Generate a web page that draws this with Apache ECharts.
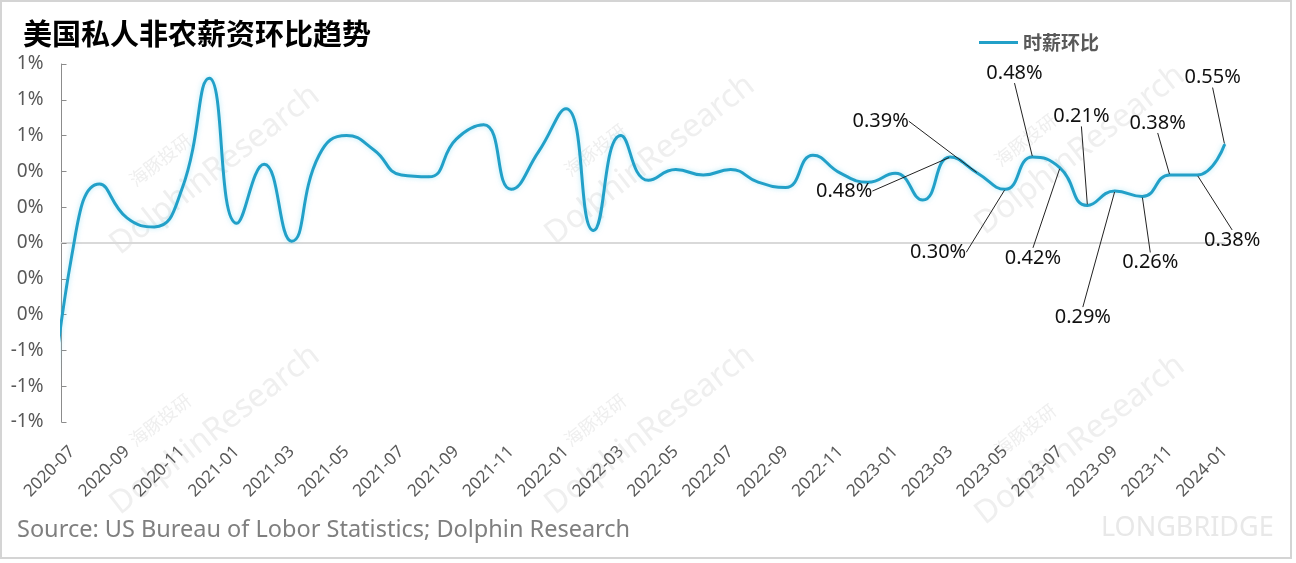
<!DOCTYPE html>
<html><head><meta charset="utf-8">
<script src="https://cdn.jsdelivr.net/npm/echarts@6/dist/echarts.min.js"></script>
<style>html,body{margin:0;padding:0;background:#fff}#c{width:1296px;height:563px}</style>
</head><body><div id="c"></div>
<script>
// ---- data ----
const categories = [
  '2020-06','2020-07','2020-08','2020-09','2020-10','2020-11','2020-12',
  '2021-01','2021-02','2021-03','2021-04','2021-05','2021-06','2021-07','2021-08','2021-09','2021-10','2021-11','2021-12',
  '2022-01','2022-02','2022-03','2022-04','2022-05','2022-06','2022-07','2022-08','2022-09','2022-10','2022-11','2022-12',
  '2023-01','2023-02','2023-03','2023-04','2023-05','2023-06','2023-07','2023-08','2023-09','2023-10','2023-11','2023-12',
  '2024-01'
];
// hourly wage, month-on-month, % (2020-06 lies mostly left of the plotted window)
const wageMoM = [
  -1.37,
  -0.06, 0.33, 0.14, 0.09, 0.30, 0.92,
  0.11, 0.44, 0.01, 0.49, 0.60, 0.52, 0.38, 0.37, 0.58, 0.66, 0.30, 0.51,
  0.75, 0.07, 0.60, 0.35, 0.41, 0.38, 0.41, 0.34, 0.31, 0.49, 0.39, 0.34,
  0.39, 0.24, 0.48, 0.39, 0.30, 0.48, 0.42, 0.21, 0.29, 0.26, 0.38, 0.38,
  0.55
];
const tickMonths = ['2020-07','2020-09','2020-11','2021-01','2021-03','2021-05','2021-07','2021-09','2021-11',
  '2022-01','2022-03','2022-05','2022-07','2022-09','2022-11','2023-01','2023-03','2023-05','2023-07','2023-09','2023-11','2024-01'];
const labeledMonths = ['2023-03','2023-04','2023-05','2023-06','2023-07','2023-08','2023-09','2023-10','2023-11','2023-12','2024-01'];
const seriesName = '时薪环比';
const titleText = '美国私人非农薪资环比趋势';
const sourceText = 'Source: US Bureau of Lobor Statistics; Dolphin Research';

// ---- layout ----
const firstShown = categories.indexOf('2020-07');
const X_MIN = -0.386;               // plotted window starts a little before 2020-07
const X_MAX = categories.length - 1 - firstShown;
const labelOffsets = {
  '2023-03': [-106, 34], '2023-04': [-97, -52], '2023-05': [-67, 63],
  '2023-06': [-18, -84], '2023-07': [-27, 90], '2023-08': [-6, -89],
  '2023-09': [-32, 126], '2023-10': [8, 66], '2023-11': [-12, -52],
  '2023-12': [35, 65], '2024-01': [-12, -67]
};

const LINE_COLOR = '#22a0c8';
const seriesData = wageMoM.map((v, i) => {
  const lab = labeledMonths.indexOf(categories[i]) >= 0;
  return { value: [i - firstShown, v], label: { show: lab }, labelLine: { show: lab } };
});
const tickValues = tickMonths.map(m => categories.indexOf(m) - firstShown);

const chart = echarts.init(document.getElementById('c'), null, { renderer: 'canvas' });

function wm(x, y) {
  return [
    { type: 'text', x: x, y: y, rotation: 0.66, silent: true, z: -10,
      style: { text: 'DolphinResearch', font: '32px "Noto Sans"', fill: '#efefef', align: 'center', verticalAlign: 'middle' } },
    { type: 'text', x: x - 55, y: y - 10, rotation: 0.66, silent: true, z: -10,
      style: { text: '海豚投研', font: '18px "Noto Sans CJK SC"', fill: '#efefef', align: 'center', verticalAlign: 'middle' } }
  ];
}

chart.setOption({
  animation: false,
  backgroundColor: '#fff',
  title: {
    text: titleText, left: 18, top: 14,
    textStyle: { fontSize: 29, fontWeight: 'bold', color: '#000', fontFamily: '"Noto Sans CJK SC"' }
  },
  legend: {
    left: 974, top: 28, icon: 'rect', itemWidth: 39, itemHeight: 3, itemGap: 7,
    textStyle: { fontSize: 19, fontWeight: 'bold', color: '#595959', fontFamily: '"Noto Sans CJK SC"' },
    data: [seriesName]
  },
  graphic: [
    { type: 'rect', shape: { x: 1, y: 1, width: 1290, height: 557 }, style: { fill: 'none', stroke: '#d4d4d4', lineWidth: 2 }, silent: true, z: -20 },
    ...wm(215, 170), ...wm(650, 160), ...wm(1080, 150),
    ...wm(215, 430), ...wm(650, 430), ...wm(1080, 440),
    { type: 'text', left: 1101, top: 515, silent: true, z: -10,
      style: { text: 'LONGBRIDGE', font: '27px "Noto Sans"', fill: '#e8e8e8' } },
    { type: 'text', left: 17, top: 518,
      style: { text: sourceText, font: '23.5px "Noto Sans"', fill: '#7f7f7f' } }
  ],
  grid: { left: 61.5, right: 71.4, top: 64, bottom: 141 },
  xAxis: [
    {
      type: 'value', min: X_MIN, max: X_MAX, position: 'bottom',
      axisLine: { show: false, onZero: false }, axisTick: { show: false }, splitLine: { show: false },
      axisLabel: {
        customValues: tickValues, rotate: 45, margin: 27, fontSize: 17, color: '#595959', fontFamily: '"Noto Sans"',
        formatter: v => categories[Math.round(v) + firstShown]
      }
    },
    {
      type: 'value', min: X_MIN, max: X_MAX, position: 'bottom',
      axisLine: { show: true, onZero: true, lineStyle: { color: '#d9d9d9', width: 2 } },
      axisTick: { show: false }, axisLabel: { show: false }, splitLine: { show: false }
    }
  ],
  yAxis: {
    type: 'value', min: -1, max: 1, interval: 0.2, position: 'left',
    axisLine: { show: true, onZero: false, lineStyle: { color: '#8c8c8c', width: 1 } },
    axisTick: { show: true, inside: true, length: 5, lineStyle: { color: '#8c8c8c' } },
    splitLine: { show: false },
    axisLabel: {
      margin: 18, fontSize: 19, color: '#595959', fontFamily: '"Noto Sans"',
      formatter: v => { const r = Math.round(v); return (r === 0 ? 0 : r) + '%'; }
    }
  },
  series: [{
    name: seriesName, type: 'line', data: seriesData, smooth: 0.5, clip: true,
    xAxisIndex: 0, yAxisIndex: 0,
    showSymbol: true, symbol: 'circle', symbolSize: 2,
    itemStyle: { color: LINE_COLOR },
    lineStyle: { color: LINE_COLOR, width: 3, shadowColor: 'rgba(120,215,240,0.55)', shadowBlur: 5 },
    label: {
      position: 'inside', fontSize: 20, color: '#111', fontFamily: '"Noto Sans"',
      formatter: p => p.value[1].toFixed(2) + '%'
    },
    labelLine: { show: true, lineStyle: { color: '#222', width: 1 } },
    labelLayout: p => {
      const off = labelOffsets[categories[p.dataIndex]];
      return off ? { dx: off[0], dy: off[1] } : {};
    },
    emphasis: { disabled: true }
  }]
});
</script></body></html>
